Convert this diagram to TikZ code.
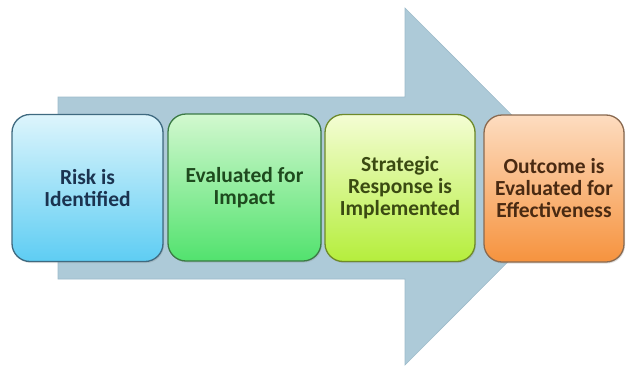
\documentclass[tikz,border=0pt]{standalone}
\usepackage{fontspec}
\setmainfont{Carlito}
\usetikzlibrary{shadows}
\definecolor{arrowfill}{HTML}{ADCAD8}
\definecolor{arrowedge}{HTML}{9DBBCA}
\definecolor{aTop}{HTML}{DDF5FC}\definecolor{aBot}{HTML}{5ECDF3}\definecolor{aEdge}{HTML}{3F6A80}\definecolor{aTxt}{HTML}{1B3350}
\definecolor{bTop}{HTML}{D2F8CF}\definecolor{bBot}{HTML}{52E26E}\definecolor{bEdge}{HTML}{3B7A45}\definecolor{bTxt}{HTML}{1E4A1E}
\definecolor{cTop}{HTML}{F4FDD4}\definecolor{cBot}{HTML}{B5EE3C}\definecolor{cEdge}{HTML}{6E8A2A}\definecolor{cTxt}{HTML}{3B4A12}
\definecolor{dTop}{HTML}{FDDCC0}\definecolor{dBot}{HTML}{F6933E}\definecolor{dEdge}{HTML}{8A6A50}\definecolor{dTxt}{HTML}{4A2A12}
\tikzset{
  stepbox/.style={rounded corners=18pt, line width=1.3pt, minimum height=147pt,
    align=center, inner sep=2pt,
    font=\fontsize{21.5}{22}\selectfont\bfseries,
    drop shadow={opacity=0.25, shadow xshift=1pt, shadow yshift=-1.5pt}},
}
\begin{document}
\begin{tikzpicture}[x=1pt,y=-1pt]
\useasboundingbox (0,0) rectangle (626,367);
\fill[white] (0,0) rectangle (626,367);
% big arrow
\coordinate (b1) at (58,97);
\coordinate (b2) at (405,97);
\coordinate (h1) at (405,8);
\coordinate (tip) at (583,186.5);
\coordinate (h2) at (405,365);
\coordinate (b3) at (405,279);
\coordinate (b4) at (58,279);
\filldraw[fill=arrowfill, draw=arrowedge, line width=0.6pt]
  (b1) -- (b2) -- (h1) -- (tip) -- (h2) -- (b3) -- (b4) -- cycle;
% boxes
\node[stepbox, minimum width=151pt, draw=aEdge, top color=aTop, bottom color=aBot, text=aTxt]
  (s1) at (87.5,188) {Risk is\\Identified};
\node[stepbox, minimum width=153pt, draw=bEdge, top color=bTop, bottom color=bBot, text=bTxt]
  (s2) at (244.5,187.5) {Evaluated for\\Impact};
\node[stepbox, minimum width=150pt, draw=cEdge, top color=cTop, bottom color=cBot, text=cTxt]
  (s3) at (400,188) {Strategic\\Response is\\Implemented};
\node[stepbox, minimum width=140pt, draw=dEdge, top color=dTop, bottom color=dBot, text=dTxt]
  (s4) at (554,188.5) {Outcome is\\Evaluated for\\Effectiveness};
\end{tikzpicture}
\end{document}
